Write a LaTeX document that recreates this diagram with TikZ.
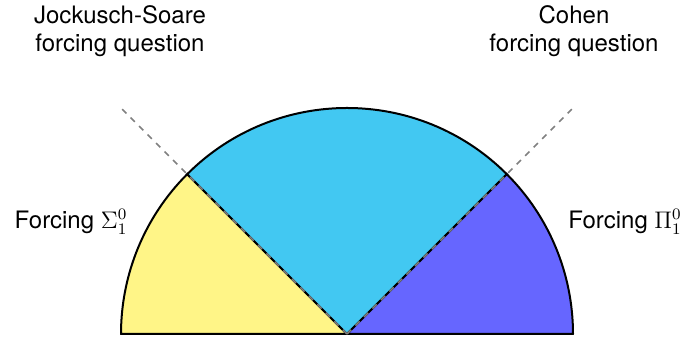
\documentclass[tikz,border=0pt]{standalone}
\usepackage{fontspec}
\setmainfont{TeX Gyre Heros}
\usepackage{tikz}
\usetikzlibrary{calc}
\definecolor{wedgeyellow}{HTML}{FFF587}
\definecolor{wedgecyan}{HTML}{42C8F2}
\definecolor{wedgeblue}{HTML}{6666FF}
\definecolor{dashgray}{HTML}{808080}

\begin{document}
\begin{tikzpicture}[x=0.5pt,y=0.5pt,
    wedge/.style={draw=black,line width=1pt,line join=round},
    cut/.style={dashgray,dashed,line width=0.8pt},
    lbl/.style={font=\fontsize{12}{14}\selectfont,align=center,inner sep=0pt}]
      \useasboundingbox (0,0) rectangle (691,340);
      % centre of the half disc and its rim
      \coordinate (O) at (347,6);
      \coordinate (west) at ($(O)+(180:226)$);
      \coordinate (nw) at ($(O)+(135:226)$);
      \coordinate (ne) at ($(O)+(45:226)$);
      % the three sectors
      \filldraw[wedge,fill=wedgeyellow] (O) -- (west) arc[start angle=180,end angle=135,radius=226] -- cycle;
      \filldraw[wedge,fill=wedgecyan] (O) -- (nw) arc[start angle=135,end angle=45,radius=226] -- cycle;
      \filldraw[wedge,fill=wedgeblue] (O) -- (ne) arc[start angle=45,end angle=0,radius=226] -- cycle;
      % the two forcing questions, cut lines run past the rim
      \coordinate (jsend) at ($(O)+(-226,226)$);
      \coordinate (cohenend) at ($(O)+(226,226)$);
      \draw[cut] (O) -- (jsend);
      \draw[cut] (O) -- (cohenend);
      \node[lbl] (js) at (120,309) {Jockusch-Soare\\forcing question};
      \node[lbl] (cohen) at (574,309) {Cohen\\forcing question};
      % sides
      \node[lbl] (sigma) at (71,118) {Forcing $\Sigma^0_1$};
      \node[lbl] (pi) at (625,118) {Forcing $\Pi^0_1$};
\end{tikzpicture}
\end{document}
